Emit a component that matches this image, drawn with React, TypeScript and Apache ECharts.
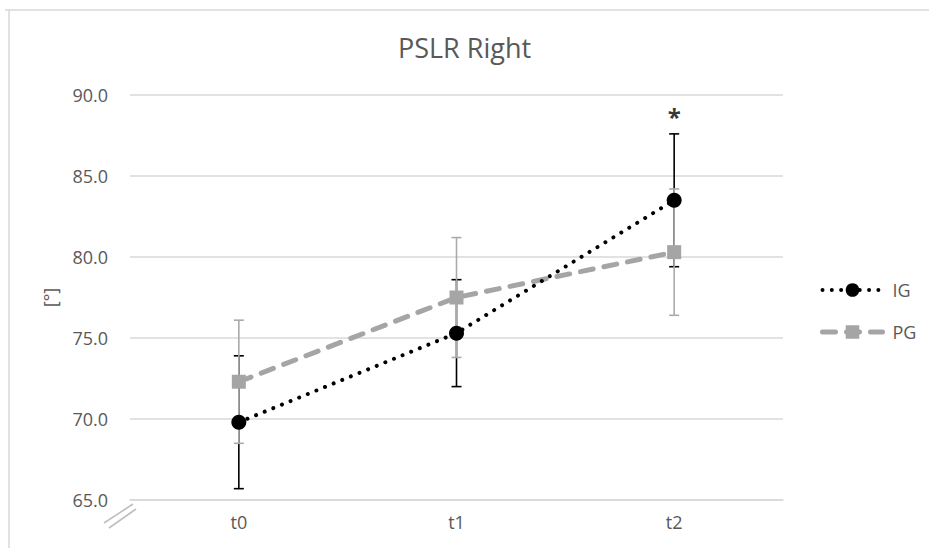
import React, { useEffect, useRef } from "react";
import * as echarts from "echarts";

const categories = ["t0", "t1", "t2"];
const igMean = [69.8, 75.3, 83.5];
const igSD = [4.1, 3.3, 4.1];
const pgMean = [72.3, 77.5, 80.3];
const pgSD = [3.8, 3.7, 3.9];
const yTicks = { min: 65, max: 90, interval: 5 };
const significance = [{ category: "t2", value: 88.7, label: "*" }];

const TEXT = "#595959";
const GRIDC = "#d9d9d9";
const GRAY = "#a5a5a5";
const FONT = "'Open Sans', 'Liberation Sans', sans-serif";

const IG_LINE = { color: "#000000", width: 4, type: [0.01, 9.3], cap: "round" };
const PG_LINE = { color: GRAY, width: 5, type: [13, 11], cap: "round" };

function errData(mean: number[], sd: number[]) {
  return mean.map((m, i) => [i, +(m - sd[i]).toFixed(2), +(m + sd[i]).toFixed(2)]);
}

function errRender(color: string) {
  return (params: any, api: any) => {
    const x = api.value(0);
    const lo = api.coord([x, api.value(1)]);
    const hi = api.coord([x, api.value(2)]);
    const hw = 5;
    const style = { stroke: color, lineWidth: 1.6 };
    return {
      type: "group",
      children: [
        { type: "line", shape: { x1: lo[0], y1: lo[1], x2: hi[0], y2: hi[1] }, style },
        { type: "line", shape: { x1: lo[0] - hw, y1: lo[1], x2: lo[0] + hw, y2: lo[1] }, style },
        { type: "line", shape: { x1: hi[0] - hw, y1: hi[1], x2: hi[0] + hw, y2: hi[1] }, style },
      ],
    };
  };
}

export default function App() {
  const ref = useRef<HTMLDivElement>(null);
  useEffect(() => {
    document.body.style.margin = "0";
    const chart = echarts.init(ref.current!, undefined, { renderer: "svg" });
    chart.setOption({
      animation: false,
      backgroundColor: "#ffffff",
      title: {
        text: "PSLR Right",
        left: "center",
        top: 29,
        textStyle: { color: TEXT, fontSize: 27, fontWeight: "normal", fontFamily: FONT },
      },
      grid: { left: 130, right: 146, top: 95, bottom: 48, containLabel: false },
      legend: {
        data: [
          { name: "IG", lineStyle: IG_LINE },
          { name: "PG", lineStyle: PG_LINE },
        ],
        orient: "vertical",
        left: 815,
        top: 276,
        itemWidth: 60,
        itemHeight: 17,
        itemGap: 24,
        textStyle: { color: TEXT, fontSize: 18, fontFamily: FONT, padding: [0, 0, 0, 5] },
      },
      xAxis: {
        type: "category",
        data: categories,
        boundaryGap: true,
        axisLine: { show: true, lineStyle: { color: GRIDC, width: 1.5 } },
        axisTick: { show: false },
        axisLabel: { color: TEXT, fontSize: 18, fontFamily: FONT, margin: 13 },
      },
      yAxis: {
        type: "value",
        min: yTicks.min,
        max: yTicks.max,
        interval: yTicks.interval,
        name: "[°]",
        nameLocation: "middle",
        nameGap: 71,
        nameRotate: 90,
        nameTextStyle: { color: TEXT, fontSize: 18, fontFamily: FONT },
        axisLine: { show: false },
        axisTick: { show: false },
        axisLabel: {
          color: TEXT,
          fontSize: 18,
          fontFamily: FONT,
          margin: 22,
          formatter: (v: number) => v.toFixed(1),
        },
        splitLine: { lineStyle: { color: GRIDC, width: 1.5 } },
      },
      series: [
        {
          name: "IG err",
          type: "custom",
          renderItem: errRender("#000000"),
          data: errData(igMean, igSD),
          encode: { x: 0, y: [1, 2] },
          z: 1,
          silent: true,
        },
        {
          name: "PG err",
          type: "custom",
          renderItem: errRender("#aaaaaa"),
          data: errData(pgMean, pgSD),
          encode: { x: 0, y: [1, 2] },
          z: 2,
          silent: true,
        },
        {
          name: "PG",
          type: "line",
          data: pgMean,
          symbol: "rect",
          symbolSize: 14,
          itemStyle: { color: GRAY },
          lineStyle: PG_LINE,
          z: 3,
        },
        {
          name: "IG",
          type: "line",
          data: igMean,
          symbol: "circle",
          symbolSize: 15,
          itemStyle: { color: "#000000" },
          lineStyle: IG_LINE,
          z: 4,
        },
        {
          name: "sig",
          type: "scatter",
          data: significance.map((s) => [s.category, s.value]),
          symbolSize: 1,
          itemStyle: { color: "rgba(0,0,0,0)" },
          label: {
            show: true,
            position: "inside",
            formatter: () => significance[0].label,
            color: "#000000",
            fontSize: 24,
            fontWeight: "bold",
            fontFamily: FONT,
          },
          z: 5,
          silent: true,
        },
      ],
      graphic: [
        { type: "line", shape: { x1: 5, y1: 10, x2: 929, y2: 10 }, style: { stroke: GRIDC, lineWidth: 1.5 } },
        { type: "line", shape: { x1: 9, y1: 10, x2: 9, y2: 548 }, style: { stroke: GRIDC, lineWidth: 1.5 } },
        { type: "line", shape: { x1: 104, y1: 523, x2: 133, y2: 504 }, style: { stroke: "#bfbfbf", lineWidth: 1.6 } },
        { type: "line", shape: { x1: 109, y1: 528, x2: 136, y2: 509 }, style: { stroke: "#bfbfbf", lineWidth: 1.6 } },
      ],
    });
    return () => chart.dispose();
  }, []);
  return <div ref={ref} style={{ position: "fixed", left: 0, top: 0, width: 929, height: 548 }} />;
}
